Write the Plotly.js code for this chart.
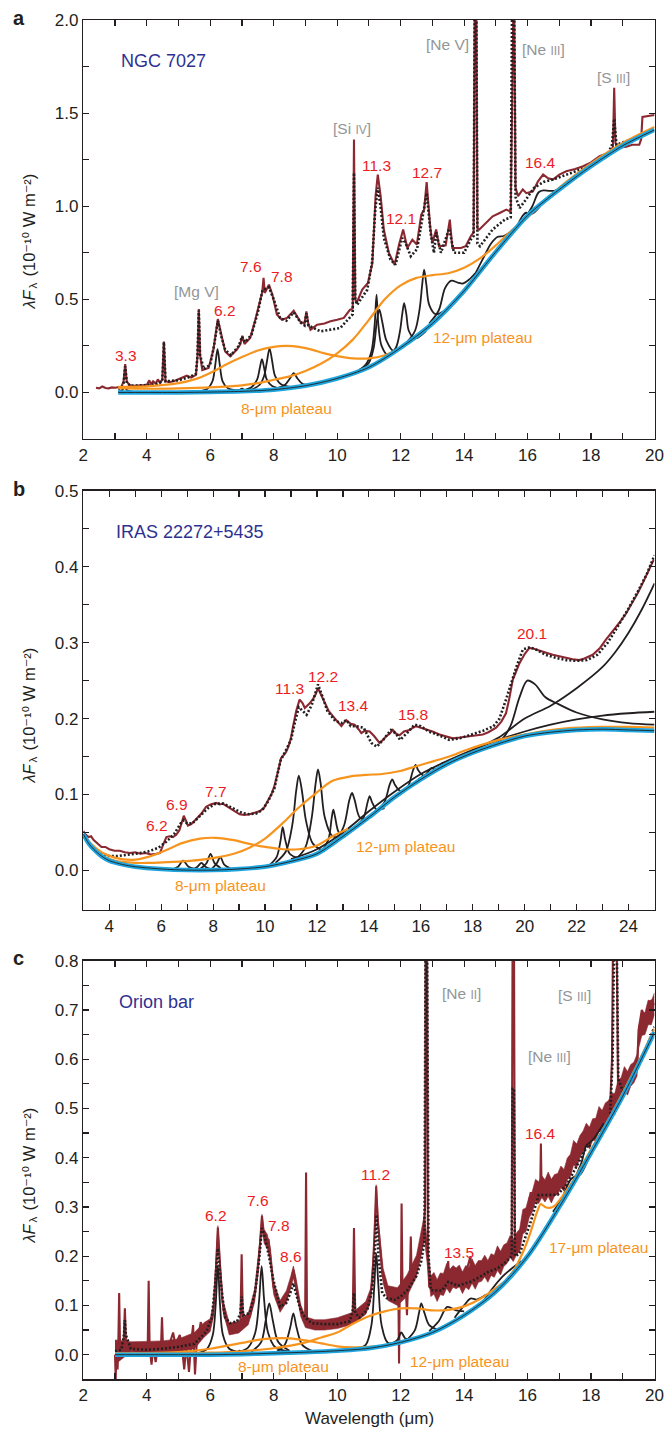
<!DOCTYPE html>
<html><head><meta charset="utf-8">
<script src="https://cdn.plot.ly/plotly-3.0.1.min.js"></script>
<style>html,body{margin:0;padding:0;background:#fff}#chart{width:664px;height:1430px}</style>
</head><body><div id="chart"></div>
<script>
// ================= DATA: panel a (NGC 7027) =================
const aObsX = [2.4,2.5,2.6,2.7,2.8,2.9,3.0,3.1,3.2,3.27,3.32,3.37,3.45,3.6,3.8,4.0,4.08,4.13,4.2,4.28,4.35,4.42,4.49,4.54,4.59,4.7,4.85,5.0,5.1,5.26,5.4,5.55,5.6,5.64,5.68,5.75,5.95,6.1,6.24,6.34,6.47,6.63,6.84,6.95,7.01,7.08,7.26,7.42,7.58,7.64,7.68,7.72,7.85,7.96,8.1,8.26,8.42,8.63,8.84,8.97,9.03,9.09,9.16,9.37,9.6,9.79,10.0,10.21,10.4,10.49,10.53,10.57,10.61,10.79,10.97,11.11,11.21,11.28,11.37,11.47,11.63,11.81,11.95,12.08,12.21,12.3,12.37,12.51,12.65,12.74,12.82,12.93,13.0,13.12,13.21,13.42,13.55,13.63,13.9,14.05,14.21,14.3,14.34,14.38,14.42,14.48,14.7,14.9,15.12,15.33,15.47,15.52,15.57,15.62,15.7,15.85,15.96,16.17,16.33,16.49,16.65,16.8,17.0,17.22,17.5,17.75,18.0,18.27,18.6,18.69,18.73,18.77,18.85,19.11,19.3,19.52,19.58,19.62,19.8,20.0];
const aObsY = [0.025,0.022,0.032,0.024,0.022,0.027,0.025,0.028,0.03,0.06,0.152,0.06,0.04,0.036,0.038,0.04,0.065,0.045,0.06,0.048,0.07,0.05,0.07,0.274,0.06,0.055,0.06,0.07,0.08,0.09,0.08,0.095,0.2,0.448,0.2,0.12,0.131,0.23,0.394,0.32,0.22,0.194,0.23,0.26,0.305,0.26,0.292,0.39,0.5,0.54,0.615,0.534,0.579,0.525,0.418,0.39,0.4,0.439,0.38,0.37,0.435,0.37,0.337,0.364,0.37,0.382,0.39,0.40,0.444,0.45,1.358,0.5,0.48,0.552,0.588,0.695,1.054,1.17,1.054,0.875,0.749,0.686,0.794,0.875,0.776,0.8,0.82,0.794,0.955,0.982,1.129,0.892,0.803,0.875,0.785,0.79,0.928,0.776,0.776,0.785,0.839,0.86,2.3,2.3,0.88,0.875,0.91,0.946,0.964,0.982,0.97,2.3,2.3,1.1,1.054,1.09,1.07,1.08,1.134,1.17,1.15,1.143,1.17,1.188,1.2,1.215,1.235,1.269,1.29,1.32,1.636,1.34,1.314,1.32,1.33,1.33,1.36,1.48,1.485,1.49];
const aModX = [3.1,3.2,3.27,3.32,3.37,3.5,4.0,4.3,4.49,4.54,4.59,5.0,5.3,5.55,5.6,5.64,5.68,5.8,6.0,6.12,6.24,6.35,6.47,6.65,6.9,7.0,7.1,7.3,7.5,7.65,7.85,8.0,8.2,8.4,8.63,8.85,8.97,9.03,9.09,9.47,10.1,10.4,10.49,10.53,10.57,10.63,10.95,11.1,11.2,11.28,11.38,11.47,11.68,11.84,12.05,12.16,12.32,12.52,12.65,12.74,12.82,12.95,13.05,13.12,13.27,13.53,13.68,14.0,14.21,14.3,14.34,14.38,14.42,14.5,14.9,15.3,15.47,15.52,15.57,15.62,15.75,15.95,16.2,16.5,16.8,17.4,18.0,18.5,18.66,18.73,18.8,18.95,19.5,20.0];
const aModY = [0.02,0.025,0.05,0.14,0.05,0.035,0.04,0.045,0.06,0.27,0.06,0.065,0.08,0.1,0.2,0.44,0.2,0.125,0.15,0.25,0.385,0.3,0.23,0.2,0.25,0.3,0.27,0.31,0.43,0.55,0.565,0.5,0.4,0.385,0.43,0.375,0.36,0.425,0.36,0.328,0.346,0.4,0.42,1.18,0.5,0.471,0.552,0.7,0.98,1.1,0.98,0.83,0.713,0.686,0.83,0.8,0.731,0.77,0.9,1.0,1.07,0.85,0.749,0.86,0.75,0.88,0.75,0.75,0.82,0.84,2.3,2.3,0.8,0.785,0.875,0.93,0.94,2.3,2.3,1.05,0.99,1.036,1.098,1.13,1.143,1.18,1.22,1.27,1.33,1.47,1.33,1.34,1.37,1.41];
const aContX = [3.1,4,5,6,7,8,9,10,11,12,13,14,15,16,17,18,19,20];
const aContY = [0,0,0,0.002,0.006,0.015,0.036,0.075,0.135,0.24,0.37,0.545,0.755,0.95,1.09,1.215,1.325,1.41];
const a8X = [3.1,4,5,5.5,6,6.5,7,7.5,8,8.4,8.8,9.2,9.6,10,10.5,11,11.5,12,12.5];
const a8Y = [0.03,0.033,0.05,0.07,0.105,0.15,0.19,0.225,0.245,0.25,0.245,0.23,0.21,0.195,0.183,0.183,0.2,0.24,0.3];
const a12X = [3.1,4,5,6,7,7.5,8,8.5,9,9.5,10,10.5,11,11.5,12,12.5,13,13.5,14,14.5,15,15.5,16,17,18,19,20];
const a12Y = [0.025,0.02,0.022,0.027,0.038,0.05,0.068,0.086,0.115,0.155,0.21,0.285,0.39,0.5,0.575,0.615,0.63,0.64,0.67,0.72,0.79,0.87,0.94,1.1,1.23,1.34,1.425];
const aPeakX = [
 [3.1,3.22,3.3,3.38,3.55],
 [5.6,5.9,6.07,6.16,6.23,6.3,6.39,6.56,6.9],
 [6.7,6.9,7.0,7.1,7.3],
 [7.0,7.3,7.48,7.56,7.63,7.7,7.78,7.95,8.3],
 [7.3,7.55,7.7,7.79,7.87,7.95,8.04,8.22,8.6],
 [8.1,8.35,8.51,8.63,8.75,8.92,9.3],
 [10.6,10.9,11.08,11.18,11.24,11.3,11.4,11.6,12.0],
 [10.7,11.0,11.15,11.25,11.33,11.42,11.55,11.8,12.2],
 [11.6,11.85,11.98,12.05,12.11,12.18,12.26,12.45,12.8],
 [12.2,12.45,12.6,12.68,12.74,12.81,12.9,13.1,13.4],
 [12.9,13.2,13.4,13.6,13.8,13.96,14.15,14.35],
 [14.3,14.6,14.85,15.05,15.25,15.45],
 [15.4,15.65,15.85,15.95,16.05,16.2,16.4],
 [15.9,16.15,16.35,16.5,16.7,16.9,17.2,17.5]
];
const aPeakY = [
 [0.004,0.012,0.028,0.012,0.004],
 [0.004,0.018,0.06,0.15,0.233,0.15,0.06,0.022,0.01],
 [0.006,0.012,0.02,0.012,0.008],
 [0.01,0.028,0.07,0.13,0.179,0.13,0.07,0.035,0.02],
 [0.015,0.04,0.09,0.17,0.237,0.17,0.09,0.045,0.026],
 [0.022,0.04,0.075,0.104,0.075,0.045,0.042],
 [0.11,0.15,0.22,0.36,0.525,0.36,0.25,0.2,0.24],
 [0.12,0.16,0.24,0.38,0.444,0.38,0.28,0.22,0.265],
 [0.195,0.24,0.33,0.42,0.48,0.42,0.33,0.29,0.33],
 [0.27,0.33,0.45,0.58,0.66,0.58,0.47,0.42,0.44],
 [0.37,0.44,0.56,0.6,0.59,0.585,0.605,0.64],
 [0.62,0.72,0.8,0.835,0.84,0.86],
 [0.84,0.89,0.95,0.965,0.955,0.965,1.0],
 [0.93,1.0,1.075,1.085,1.082,1.085,1.12,1.16]
];

// ================= DATA: panel b (IRAS 22272+5435) =================
const bObsX = [3.0,3.1,3.2,3.3,3.4,3.55,3.7,3.85,4.0,4.2,4.4,4.6,4.8,5.0,5.2,5.4,5.6,5.8,5.95,6.1,6.2,6.32,6.45,6.58,6.7,6.8,6.87,6.95,7.03,7.16,7.3,7.41,7.55,7.73,7.9,8.12,8.25,8.37,8.5,8.63,8.8,9.02,9.2,9.4,9.6,9.79,9.95,10.1,10.24,10.36,10.5,10.62,10.72,10.81,10.9,11.0,11.08,11.2,11.33,11.45,11.53,11.6,11.72,11.85,11.95,12.04,12.15,12.3,12.45,12.62,12.8,12.94,13.05,13.13,13.3,13.45,13.6,13.71,13.85,14.03,14.2,14.41,14.55,14.67,14.8,14.92,15.05,15.18,15.35,15.57,15.7,15.82,16.0,16.2,16.45,16.72,17.0,17.23,17.5,17.74,18.0,18.2,18.39,18.6,18.9,19.1,19.28,19.4,19.54,19.67,19.8,20.0,20.18,20.35,20.57,20.8,21.08,21.3,21.59,21.85,22.1,22.3,22.62,22.9,23.13,23.4,23.64,23.9,24.15,24.35,24.54,24.75,24.97];
const bObsY = [0.052,0.047,0.044,0.045,0.04,0.036,0.031,0.031,0.028,0.026,0.026,0.024,0.023,0.024,0.022,0.023,0.021,0.022,0.023,0.036,0.044,0.045,0.044,0.047,0.053,0.064,0.072,0.066,0.059,0.061,0.066,0.069,0.075,0.084,0.087,0.089,0.087,0.088,0.085,0.082,0.078,0.074,0.073,0.074,0.076,0.078,0.082,0.091,0.1,0.111,0.13,0.148,0.152,0.156,0.163,0.175,0.19,0.21,0.225,0.22,0.214,0.216,0.22,0.226,0.232,0.24,0.232,0.22,0.21,0.203,0.196,0.19,0.195,0.198,0.193,0.192,0.186,0.181,0.184,0.183,0.177,0.168,0.172,0.177,0.18,0.185,0.18,0.178,0.183,0.185,0.188,0.19,0.188,0.186,0.183,0.179,0.176,0.174,0.175,0.176,0.177,0.178,0.179,0.182,0.188,0.196,0.207,0.225,0.251,0.262,0.273,0.285,0.293,0.292,0.29,0.287,0.284,0.282,0.28,0.278,0.277,0.279,0.284,0.293,0.304,0.315,0.326,0.338,0.352,0.365,0.378,0.393,0.409];
const bModX = [3.0,3.2,3.4,3.7,4.0,4.3,4.6,5.0,5.5,5.9,6.2,6.5,6.75,6.87,7.0,7.2,7.5,7.8,8.1,8.4,8.76,9.1,9.4,9.66,9.9,10.1,10.36,10.6,10.8,11.0,11.15,11.3,11.45,11.6,11.8,12.04,12.2,12.4,12.7,12.94,13.13,13.3,13.5,13.8,14.09,14.3,14.55,14.85,15.05,15.2,15.5,15.76,16.0,16.3,16.7,17.1,17.5,17.9,18.4,18.8,19.03,19.28,19.5,19.7,19.93,20.2,20.5,20.8,21.2,21.6,22.0,22.4,22.8,23.2,23.6,24.0,24.4,24.7,25.0];
const bModY = [0.045,0.038,0.03,0.022,0.019,0.019,0.02,0.022,0.025,0.03,0.038,0.048,0.062,0.066,0.062,0.062,0.072,0.082,0.088,0.088,0.082,0.076,0.074,0.075,0.08,0.09,0.108,0.145,0.158,0.172,0.195,0.215,0.21,0.205,0.218,0.245,0.23,0.21,0.197,0.194,0.198,0.19,0.19,0.188,0.168,0.163,0.172,0.185,0.18,0.172,0.182,0.192,0.19,0.183,0.178,0.172,0.174,0.178,0.184,0.19,0.2,0.225,0.25,0.27,0.291,0.294,0.29,0.284,0.28,0.277,0.276,0.277,0.284,0.3,0.322,0.345,0.37,0.39,0.415];
const bContX = [3,3.2,3.4,3.7,4,4.5,5,6,7,8,9,10,11,12,13,14,15,16,17,18,19,20,21,22,23,24,25];
const bContY = [0.048,0.036,0.028,0.019,0.013,0.008,0.005,0.002,0.0005,0.0005,0.002,0.005,0.012,0.022,0.045,0.07,0.097,0.12,0.14,0.155,0.167,0.177,0.182,0.185,0.186,0.185,0.184];
const b8X = [3,3.3,3.7,4.2,4.9,5.5,6.2,6.8,7.5,8.1,8.8,9.4,10.0,10.7,11.3,12.0,12.6,13.2];
const b8Y = [0.047,0.035,0.024,0.017,0.014,0.018,0.027,0.036,0.042,0.043,0.04,0.035,0.031,0.028,0.028,0.033,0.045,0.055];
const b12X = [3,3.3,3.7,4.2,5,5.5,6.2,6.8,7.5,8.1,8.8,9.4,10,10.7,11.3,12,12.6,13.3,13.9,14.5,15.2,15.8,16.5,17.1,17.7,18.4,19.0,20.3,21.6,22.9,24,25];
const b12Y = [0.045,0.033,0.02,0.013,0.01,0.01,0.011,0.012,0.014,0.017,0.022,0.03,0.042,0.063,0.083,0.103,0.118,0.124,0.126,0.127,0.131,0.137,0.144,0.15,0.158,0.166,0.172,0.181,0.187,0.189,0.189,0.188];
const bPeakX = [
 [6.4,6.65,6.84,7.05,7.3],
 [7.2,7.4,7.55,7.7,7.9],
 [7.5,7.75,7.9,8.05,8.3],
 [7.95,8.15,8.28,8.42,8.7],
 [10.2,10.45,10.6,10.68,10.78,10.95,11.3],
 [10.4,10.8,11.05,11.2,11.3,11.42,11.58,11.85,12.3],
 [11.2,11.55,11.8,11.95,12.04,12.14,12.3,12.6,13.1],
 [12.2,12.45,12.57,12.63,12.7,12.85,13.1],
 [12.8,13.05,13.25,13.35,13.45,13.65,13.95],
 [13.5,13.8,13.95,14.03,14.12,14.3,14.6],
 [14.3,14.6,14.8,14.9,15.0,15.2,15.5],
 [15.2,15.5,15.7,15.8,15.9,16.1,16.4],
 [15.9,16.15,16.33,16.42,16.52,16.7,17.0],
 [18.0,18.6,19.1,19.45,19.8,20.1,20.4,20.8,21.3,22.0,23.0,24.0,25.0],
 [17.0,18.0,19.0,20.0,21.0,22.0,23.0,23.5,24.0,24.5,25.0],
 [11.0,12.0,13.0,14.0,15.0,16.0,17.0,18.0,19.0,20.0,21.0,22.0,23.0,24.0,25.0]
];
const bPeakY = [
 [0.001,0.005,0.013,0.005,0.002],
 [0.001,0.005,0.01,0.005,0.002],
 [0.002,0.01,0.022,0.01,0.003],
 [0.002,0.01,0.018,0.008,0.002],
 [0.008,0.018,0.04,0.057,0.04,0.022,0.016],
 [0.01,0.025,0.06,0.105,0.125,0.105,0.065,0.035,0.025],
 [0.015,0.03,0.07,0.115,0.133,0.115,0.07,0.045,0.045],
 [0.025,0.042,0.07,0.08,0.07,0.05,0.048],
 [0.042,0.06,0.093,0.102,0.093,0.07,0.068],
 [0.058,0.07,0.09,0.098,0.09,0.08,0.082],
 [0.078,0.09,0.113,0.12,0.113,0.105,0.108],
 [0.1,0.11,0.132,0.139,0.132,0.125,0.128],
 [0.12,0.125,0.132,0.135,0.133,0.135,0.14],
 [0.156,0.163,0.172,0.19,0.228,0.25,0.245,0.228,0.219,0.208,0.199,0.194,0.192],
 [0.14,0.158,0.175,0.2,0.217,0.24,0.268,0.288,0.313,0.343,0.378],
 [0.015,0.028,0.05,0.078,0.104,0.127,0.144,0.159,0.172,0.183,0.192,0.199,0.204,0.207,0.209]
];

// ================= DATA: panel c (Orion bar) =================
const cObsX = [3.0,3.02,3.05,3.08,3.1,3.13,3.16,3.22,3.27,3.31,3.35,3.5,3.7,3.9,4.03,4.06,4.09,4.15,4.2,4.28,4.35,4.45,4.48,4.51,4.6,4.7,4.83,4.9,5.04,5.1,5.18,5.25,5.33,5.4,5.46,5.52,5.58,5.65,5.7,5.78,5.85,5.99,6.1,6.17,6.24,6.31,6.38,6.46,6.62,6.83,6.95,6.99,7.03,7.1,7.25,7.41,7.5,7.57,7.63,7.68,7.73,7.84,7.9,7.99,8.1,8.2,8.41,8.55,8.62,8.7,8.78,8.94,8.99,9.02,9.05,9.1,9.36,9.6,9.88,10.1,10.32,10.49,10.53,10.57,10.63,10.8,10.95,11.05,11.11,11.18,11.23,11.28,11.32,11.42,11.58,11.79,11.93,11.95,11.97,12.01,12.03,12.06,12.16,12.2,12.23,12.29,12.32,12.35,12.42,12.55,12.63,12.72,12.77,12.79,12.83,12.86,12.9,13.16,13.42,13.5,13.53,13.58,13.79,14.0,14.2,14.23,14.42,14.63,14.84,15.05,15.26,15.42,15.5,15.53,15.57,15.6,15.68,15.84,16.0,16.1,16.13,16.21,16.34,16.4,16.42,16.44,16.53,16.84,17.16,17.47,17.79,18.1,18.42,18.6,18.66,18.7,18.8,18.85,19.01,19.2,19.33,19.45,19.5,19.6,19.75,19.9,20.0];
const cObsY = [0.0,-0.05,0.02,-0.03,0.01,0.125,0.01,0.015,0.02,0.094,0.015,0.016,0.015,0.016,0.017,0.15,0.017,-0.02,0.015,-0.015,0.016,0.018,0.076,0.018,0.012,0.018,0.045,0.02,0.04,0.022,-0.03,0.02,-0.035,0.025,0.06,-0.04,0.03,0.045,0.066,0.05,0.05,0.055,0.09,0.16,0.258,0.18,0.11,0.077,0.05,0.053,0.06,0.204,0.065,0.065,0.077,0.125,0.17,0.226,0.282,0.245,0.235,0.233,0.2,0.138,0.11,0.097,0.118,0.15,0.172,0.145,0.111,0.07,0.065,0.37,0.065,0.064,0.06,0.06,0.064,0.066,0.07,0.074,0.257,0.078,0.084,0.09,0.097,0.12,0.152,0.25,0.342,0.27,0.246,0.165,0.125,0.118,0.118,-0.018,0.118,0.12,0.307,0.13,0.138,0.08,0.14,0.15,0.24,0.15,0.165,0.185,0.206,0.24,0.3,0.9,0.9,0.2,0.138,0.135,0.152,0.19,0.15,0.16,0.145,0.152,0.2,0.16,0.165,0.172,0.179,0.185,0.199,0.212,0.22,0.9,0.9,0.22,0.219,0.26,0.294,0.33,0.3,0.32,0.341,0.34,0.429,0.34,0.334,0.341,0.361,0.402,0.436,0.456,0.483,0.5,0.6,0.9,0.9,0.55,0.544,0.56,0.571,0.58,0.66,0.7,0.68,0.72,0.71];
const cBandX = [3.0,3.5,4.0,4.5,5.0,5.5,5.8,6.0,6.1,6.2,6.24,6.3,6.4,6.6,6.9,7.2,7.4,7.55,7.63,7.7,7.8,7.9,8.0,8.2,8.4,8.55,8.62,8.7,8.85,9.0,9.3,9.6,10.0,10.5,10.9,11.05,11.15,11.23,11.32,11.45,11.6,11.9,12.2,12.5,12.75,
 12.95,13.05,13.15,13.25,13.35,13.45,13.55,13.65,13.75,13.85,13.95,14.05,14.15,14.25,14.35,14.45,14.55,14.65,14.75,14.85,14.95,15.05,15.15,15.25,15.35,15.45,15.55,15.65,15.75,15.85,15.95,16.05,16.15,16.25,16.35,16.45,16.55,16.65,16.75,16.85,16.95,17.05,17.15,17.25,17.35,17.45,17.55,17.65,17.75,17.85,17.95,18.05,18.15,18.25,18.35,18.45,18.55,18.65,18.75,18.85,18.95,19.05,19.15,19.25,19.35,19.45,19.5,19.6,19.7,19.8,19.9,20.0];
const cBandLo = [-0.02,0.006,0.004,0.005,0.006,0.012,0.035,0.047,0.077,0.185,0.235,0.176,0.088,0.04,0.044,0.061,0.107,0.196,0.255,0.226,0.216,0.186,0.122,0.086,0.106,0.138,0.156,0.133,0.078,0.055,0.05,0.05,0.053,0.062,0.082,0.106,0.186,0.315,0.225,0.145,0.11,0.1,0.118,0.158,0.235,
 0.118,0.123,0.108,0.122,0.12,0.135,0.125,0.137,0.134,0.138,0.124,0.137,0.132,0.145,0.133,0.147,0.149,0.158,0.147,0.161,0.157,0.171,0.162,0.179,0.185,0.198,0.189,0.203,0.21,0.245,0.25,0.278,0.29,0.312,0.307,0.319,0.31,0.321,0.308,0.322,0.326,0.339,0.332,0.355,0.362,0.385,0.38,0.401,0.412,0.426,0.418,0.435,0.435,0.454,0.448,0.467,0.474,0.486,0.487,0.513,0.518,0.535,0.527,0.545,0.552,0.566,0.622,0.648,0.65,0.67,0.67,0.691];
const cBandHi = [0.03,0.026,0.027,0.028,0.032,0.045,0.065,0.073,0.103,0.215,0.262,0.204,0.112,0.064,0.068,0.085,0.133,0.224,0.285,0.254,0.244,0.214,0.148,0.11,0.13,0.162,0.18,0.157,0.102,0.077,0.071,0.071,0.075,0.086,0.108,0.134,0.214,0.345,0.255,0.175,0.14,0.136,0.162,0.202,0.285,
 0.16,0.167,0.152,0.166,0.165,0.185,0.173,0.181,0.176,0.182,0.168,0.181,0.177,0.195,0.181,0.191,0.191,0.202,0.191,0.205,0.202,0.221,0.21,0.223,0.227,0.242,0.233,0.247,0.255,0.295,0.298,0.322,0.332,0.356,0.351,0.363,0.355,0.371,0.356,0.366,0.368,0.383,0.376,0.399,0.407,0.435,0.428,0.445,0.454,0.47,0.462,0.479,0.48,0.504,0.496,0.511,0.516,0.53,0.531,0.557,0.563,0.585,0.575,0.589,0.594,0.61,0.666,0.692,0.695,0.72,0.718,0.735];
const cModX = [3.0,3.2,3.28,3.31,3.34,3.5,4.0,4.5,5.0,5.5,5.88,6.05,6.15,6.24,6.33,6.46,6.62,6.85,6.95,6.99,7.04,7.25,7.42,7.55,7.63,7.72,7.85,7.99,8.2,8.4,8.55,8.62,8.7,8.85,9.0,9.2,9.6,10.0,10.4,10.49,10.53,10.57,10.7,10.95,11.1,11.18,11.24,11.3,11.42,11.56,11.8,12.0,12.2,12.5,12.65,12.75,12.79,12.83,12.88,12.95,13.3,13.5,13.8,14.2,14.5,14.75,15.05,15.35,15.5,15.53,15.57,15.6,15.75,15.95,16.1,16.35,16.6,16.95,17.26,17.6,17.9,18.1,18.4,18.6,18.68,18.74,18.8,18.86,19.0,19.3,19.6,20.0];
const cModY = [0.007,0.01,0.04,0.07,0.04,0.012,0.01,0.012,0.016,0.022,0.047,0.075,0.14,0.216,0.15,0.077,0.064,0.068,0.085,0.118,0.08,0.085,0.13,0.2,0.257,0.24,0.2,0.152,0.097,0.105,0.13,0.145,0.125,0.09,0.075,0.064,0.062,0.062,0.068,0.09,0.125,0.085,0.075,0.091,0.13,0.2,0.284,0.2,0.125,0.115,0.111,0.118,0.13,0.16,0.19,0.23,0.9,0.9,0.2,0.131,0.13,0.148,0.14,0.148,0.158,0.168,0.175,0.19,0.2,0.54,0.54,0.2,0.205,0.24,0.27,0.324,0.325,0.325,0.348,0.388,0.426,0.42,0.46,0.48,0.6,0.9,0.9,0.56,0.535,0.56,0.6,0.666];
const cContX = [3,4,5,6,7,8,9,10,11,12,13,14,15,16,17,18,19,20];
const cContY = [0,0,0,0,0.001,0.003,0.005,0.008,0.013,0.025,0.045,0.08,0.128,0.2,0.3,0.41,0.525,0.655];
const c8X = [3,4,5,6,7,7.5,8,8.5,9,9.5,10,10.5,11,11.5,12];
const c8Y = [0.003,0.003,0.005,0.012,0.024,0.03,0.033,0.033,0.029,0.023,0.017,0.015,0.016,0.018,0.027];
const c12X = [3,4,5,6,7,8,9,9.5,10,10.5,11,11.5,12,12.5,13,13.5,14,14.5,15,15.3];
const c12Y = [0.002,0.002,0.003,0.004,0.007,0.013,0.025,0.035,0.045,0.063,0.078,0.088,0.094,0.094,0.09,0.091,0.098,0.113,0.135,0.15];
const c17X = [14.6,15.0,15.3,15.6,15.9,16.1,16.3,16.42,16.55,16.7,16.85,17.1,17.5,18,18.5,19,19.5,20];
const c17Y = [0.105,0.13,0.15,0.175,0.215,0.25,0.29,0.306,0.3,0.298,0.302,0.322,0.36,0.417,0.472,0.532,0.595,0.662];
const cPeakX = [
 [5.6,5.9,6.08,6.17,6.24,6.31,6.4,6.6,7.0],
 [6.7,6.85,6.92,7.0,7.15],
 [6.9,7.2,7.42,7.54,7.62,7.7,7.82,8.05,8.5],
 [7.3,7.6,7.75,7.86,7.97,8.15,8.5],
 [8.1,8.35,8.52,8.62,8.72,8.9,9.2],
 [10.6,10.9,11.08,11.17,11.23,11.3,11.4,11.6,12.0],
 [11.7,11.9,12.02,12.15,12.4],
 [12.2,12.45,12.58,12.65,12.75,12.9,13.2],
 [12.9,13.2,13.47,13.75,14.0],
 [13.7,14.0,14.2,14.4,14.7],
 [14.5,14.9,15.2,15.5,15.8],
 [16.8,17.1,17.35,17.5,17.65,17.9],
 [17.5,17.7,17.85,17.95,18.1,18.4]
];
const cPeakY = [
 [0.003,0.012,0.04,0.1,0.182,0.1,0.04,0.012,0.004],
 [0.002,0.005,0.008,0.005,0.002],
 [0.005,0.015,0.045,0.11,0.18,0.11,0.045,0.015,0.006],
 [0.006,0.025,0.07,0.104,0.07,0.025,0.008],
 [0.006,0.02,0.055,0.084,0.055,0.02,0.008],
 [0.012,0.02,0.06,0.14,0.206,0.14,0.06,0.024,0.027],
 [0.022,0.03,0.045,0.033,0.032],
 [0.03,0.05,0.085,0.104,0.085,0.06,0.05],
 [0.048,0.068,0.097,0.09,0.088],
 [0.075,0.1,0.114,0.112,0.122],
 [0.1,0.135,0.158,0.175,0.19],
 [0.29,0.32,0.355,0.362,0.365,0.395],
 [0.36,0.39,0.425,0.43,0.44,0.47]
];

// tick labels (labelled ticks)
const acXTickVals = [2,4,6,8,10,12,14,16,18,20];
const acXTickText = ['2','4','6','8','10','12','14','16','18','20'];
const aYTickVals = [0,0.5,1,1.5,2];
const aYTickText = ['0.0','0.5','1.0','1.5','2.0'];
const bXTickVals = [4,6,8,10,12,14,16,18,20,22,24];
const bXTickText = ['4','6','8','10','12','14','16','18','20','22','24'];
const bYTickVals = [0,0.1,0.2,0.3,0.4,0.5];
const bYTickText = ['0.0','0.1','0.2','0.3','0.4','0.5'];
const cYTickVals = [0,0.1,0.2,0.3,0.4,0.5,0.6,0.7,0.8];
const cYTickText = ['0.0','0.1','0.2','0.3','0.4','0.5','0.6','0.7','0.8'];

// ================= STYLE =================
const RED='#8c2830', BLK='#231f20', ORG='#f7941d', BLU='#1fa5dd', LRED='#ec1c24', GRY='#939598', NAV='#2e3192';
const FONT='"Liberation Sans", Arial, Helvetica, "DejaVu Sans", sans-serif';
const traces=[];
function add(x,y,ax,color,width,extra){
  extra=extra||{};
  const t={type:'scatter',mode:'lines',x:x,y:y,xaxis:'x'+ax,yaxis:'y'+ax,hoverinfo:'skip',showlegend:false,
    line:Object.assign({color:color,width:width},extra.line||{})};
  if(extra.fill){t.fill=extra.fill;t.fillcolor=extra.fillcolor;}
  traces.push(t);
}
function panel(ax,obsX,obsY,modX,modY,peaksX,peaksY,plats,contX,contY){
  add(obsX,obsY,ax,RED,2.1);
  add(modX,modY,ax,BLK,2.6,{line:{dash:'2px,2px'}});
  for(let i=0;i<peaksX.length;i++) add(peaksX[i],peaksY[i],ax,BLK,1.8,{line:{shape:'spline',smoothing:0.9}});
  plats.forEach(p=>add(p[0],p[1],ax,ORG,2.2,{line:{shape:'spline',smoothing:0.8}}));
  add(contX,contY,ax,BLU,4.5,{line:{shape:'spline',smoothing:0.8}});
  add(contX,contY,ax,BLK,0.9,{line:{shape:'spline',smoothing:0.8}});
}
panel('',aObsX,aObsY,aModX,aModY,aPeakX,aPeakY,[[a8X,a8Y],[a12X,a12Y]],aContX,aContY);
panel('2',bObsX,bObsY,bModX,bModY,bPeakX,bPeakY,[[b8X,b8Y],[b12X,b12Y]],bContX,bContY);
add(cBandX,cBandLo,'3',RED,0.6);
add(cBandX,cBandHi,'3',RED,0.6,{fill:'tonexty',fillcolor:RED});
panel('3',cObsX,cObsY,cModX,cModY,cPeakX,cPeakY,[[c8X,c8Y],[c12X,c12Y],[c17X,c17Y]],cContX,cContY);

// ================= LAYOUT =================
const W=664,H=1430;
const fy=p=>1-p/H;
function seq(a,b,s){const r=[];for(let v=a;v<=b+1e-9;v+=s)r.push(Math.round(v*1000)/1000);return r;}
function axis(extra,minorVals){
  return Object.assign({showline:true,linecolor:BLK,linewidth:1.4,mirror:'allticks',ticks:'inside',ticklen:6,tickwidth:1.2,tickcolor:BLK,
    showgrid:false,zeroline:false,tickfont:{family:FONT,size:17,color:BLK},tickmode:'array',fixedrange:true,
    minor:{tickmode:'array',tickvals:minorVals,ticks:'inside',ticklen:6,tickwidth:1.2,tickcolor:BLK,showgrid:false}},extra);
}
const XD=[83.3/W,654.5/W];
const layout={
  width:W,height:H,margin:{l:0,r:0,t:0,b:0},showlegend:false,paper_bgcolor:'#fff',plot_bgcolor:'#fff',
  font:{family:FONT,color:BLK},
  xaxis:axis({domain:XD,range:[2,20],anchor:'y',tickvals:acXTickVals,ticktext:acXTickText},seq(2,20,1)),
  yaxis:axis({domain:[fy(439),fy(20)],range:[-0.25,2.0],anchor:'x',tickvals:aYTickVals,ticktext:aYTickText},seq(0,2,0.25)),
  xaxis2:axis({domain:XD,range:[3,25],anchor:'y2',tickvals:bXTickVals,ticktext:bXTickText},seq(3,25,1)),
  yaxis2:axis({domain:[fy(910),fy(490.7)],range:[-0.052,0.5],anchor:'x2',tickvals:bYTickVals,ticktext:bYTickText},seq(0,0.5,0.05)),
  xaxis3:axis({domain:XD,range:[2,20],anchor:'y3',tickvals:acXTickVals,ticktext:acXTickText},seq(2,20,1)),
  yaxis3:axis({domain:[fy(1379.3),fy(960.7)],range:[-0.05,0.8],anchor:'x3',tickvals:cYTickVals,ticktext:cYTickText},seq(0,0.8,0.05)),
  annotations:[]
};
const ann=layout.annotations;
function lab(ax,x,y,text,color,size){
  ann.push({xref:'x'+ax,yref:'y'+ax,x:x,y:y,text:text,showarrow:false,xanchor:'center',yanchor:'middle',
    font:{family:FONT,size:size||15.5,color:color}});
}
function paperLab(px,pyy,text,size,extra,font){
  ann.push(Object.assign({xref:'paper',yref:'paper',x:px/W,y:fy(pyy),text:text,showarrow:false,xanchor:'center',yanchor:'middle',
    font:Object.assign({family:FONT,size:size,color:BLK},font||{})},extra||{}));
}
const rn=s=>'<span style="font-size:12px">'+s+'</span>';
lab('',4.52,1.78,'NGC 7027',NAV,18);
lab('',3.35,0.197,'3.3',LRED);
lab('',5.56,0.54,'[Mg V]',GRY);
lab('',6.45,0.44,'6.2',LRED);
lab('',7.27,0.675,'7.6',LRED);
lab('',8.25,0.62,'7.8',LRED);
lab('',10.46,1.42,'[Si '+rn('IV')+']',GRY);
lab('',11.24,1.22,'11.3',LRED);
lab('',12.0,0.935,'12.1',LRED);
lab('',12.82,1.18,'12.7',LRED);
lab('',13.48,1.87,'[Ne V]',GRY);
lab('',16.51,1.84,'[Ne '+rn('III')+']',GRY);
lab('',16.42,1.235,'16.4',LRED);
lab('',18.7,1.69,'[S '+rn('III')+']',GRY);
lab('',14.59,0.293,'12-μm plateau',ORG);
lab('',8.4,-0.088,'8-μm plateau',ORG);
lab('2',7.11,0.446,'IRAS 22272+5435',NAV,18);
lab('2',5.83,0.059,'6.2',LRED);
lab('2',6.6,0.087,'6.9',LRED);
lab('2',8.1,0.104,'7.7',LRED);
lab('2',10.95,0.239,'11.3',LRED);
lab('2',12.22,0.256,'12.2',LRED);
lab('2',13.42,0.217,'13.4',LRED);
lab('2',15.68,0.206,'15.8',LRED);
lab('2',20.3,0.312,'20.1',LRED);
lab('2',15.41,0.032,'12-μm plateau',ORG);
lab('2',8.3,-0.02,'8-μm plateau',ORG);
lab('3',4.3,0.716,'Orion bar',NAV,18);
lab('3',6.19,0.282,'6.2',LRED);
lab('3',7.49,0.314,'7.6',LRED);
lab('3',8.18,0.263,'7.8',LRED);
lab('3',8.56,0.2,'8.6',LRED);
lab('3',11.21,0.365,'11.2',LRED);
lab('3',13.83,0.208,'13.5',LRED);
lab('3',13.92,0.734,'[Ne '+rn('II')+']',GRY);
lab('3',16.7,0.606,'[Ne '+rn('III')+']',GRY);
lab('3',17.49,0.73,'[S '+rn('III')+']',GRY);
lab('3',16.42,0.45,'16.4',LRED);
lab('3',18.22,0.217,'17-μm plateau',ORG);
lab('3',13.87,-0.013,'12-μm plateau',ORG);
lab('3',8.3,-0.023,'8-μm plateau',ORG);
paperLab(18.5,18,'a',20,null,{weight:'bold'});
paperLab(18.5,489,'b',20,null,{weight:'bold'});
paperLab(18.5,958,'c',20,null,{weight:'bold'});
// rotated y-axis titles, built from three pieces: "λF", subscript "λ", "(10⁻¹⁰ W m⁻²)"
function yTitle(centerPx){
  const ys=centerPx+40;  // page y where the bracketed unit begins
  ann.push({xref:'paper',yref:'paper',x:28/W,y:fy(ys),text:'(10⁻¹⁰ W m⁻²)',showarrow:false,textangle:-90,
    xanchor:'center',yanchor:'bottom',font:{family:FONT,size:16.5,color:BLK}});
  ann.push({xref:'paper',yref:'paper',x:32.5/W,y:fy(ys+3),text:'λ',showarrow:false,textangle:-90,
    xanchor:'center',yanchor:'top',font:{family:FONT,size:11.5,color:BLK}});
  ann.push({xref:'paper',yref:'paper',x:28/W,y:fy(ys+9.5),text:'λF',showarrow:false,textangle:-90,
    xanchor:'center',yanchor:'top',font:{family:FONT,size:16.5,color:BLK,style:'italic'}});
}
yTitle(238); yTitle(712); yTitle(1172);
paperLab(369,1418,'Wavelength (μm)',17);

Plotly.newPlot('chart',traces,layout,{staticPlot:true,displayModeBar:false});
</script></body></html>
